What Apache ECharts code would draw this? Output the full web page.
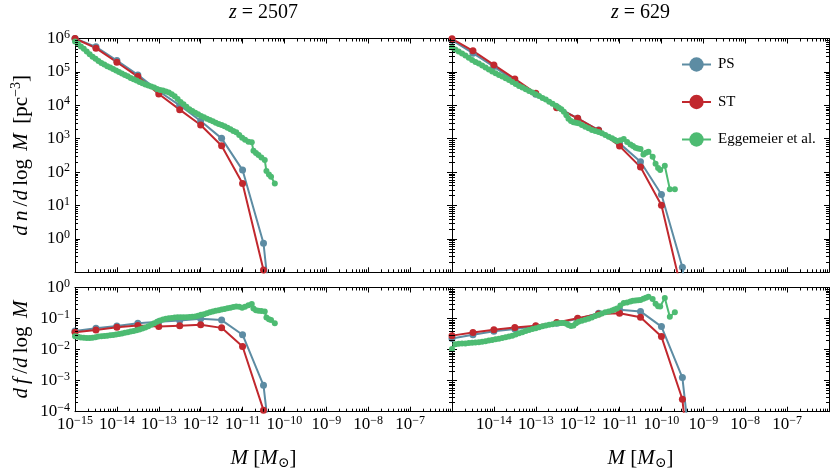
<!DOCTYPE html>
<html><head><meta charset="utf-8">
<script src="https://cdn.jsdelivr.net/npm/echarts@6/dist/echarts.min.js"></script>
<style>html,body{margin:0;padding:0;background:#fff}#c{width:833px;height:472px}</style>
</head><body><div id="c"></div>
<script>
// ================= DATA (all values are log10 of the plotted quantity) =================
// x: log10(M / Msun) ; top panels: log10(dn/dlogM [pc^-3]) ; bottom panels: log10(df/dlogM)
const panelTitles = ['2507', '629'];
const legendNames = ['PS', 'ST', 'Eggemeier et al.'];
const xTickExps = [-15, -14, -13, -12, -11, -10, -9, -8, -7, -6];
const yTopTickExps = [-1, 0, 1, 2, 3, 4, 5, 6];
const yBottomTickExps = [-4, -3, -2, -1, 0];

// Press-Schechter / Sheth-Tormen mass grid
const massExpTheory = [-15, -14.5, -14, -13.5, -13, -12.5, -12, -11.5, -11, -10.5, -10, -9.5, -9];

// z = 2507
const psDn_2507 = [6.00, 5.75, 5.34, 4.91, 4.42, 4.00, 3.53, 3.01, 2.06, -0.13, -6.0];
const stDn_2507 = [6.00, 5.71, 5.29, 4.86, 4.34, 3.87, 3.41, 2.79, 1.66, -0.93, -7.0];
const psDf_2507 = [-1.40, -1.31, -1.24, -1.15, -1.10, -1.06, -1.01, -1.05, -1.52, -3.15, -9.0];
const stDf_2507 = [-1.44, -1.37, -1.28, -1.22, -1.26, -1.23, -1.20, -1.30, -1.90, -3.95, -10.0];

const eggMass_2507 = [-15.00,-14.93,-14.86,-14.79,-14.72,-14.65,-14.58,-14.51,-14.44,-14.37,
  -14.30,-14.23,-14.16,-14.09,-14.02,-13.95,-13.88,-13.81,-13.74,-13.67,
  -13.60,-13.53,-13.46,-13.39,-13.32,-13.25,-13.18,-13.11,-13.04,-12.97,
  -12.90,-12.83,-12.76,-12.69,-12.62,-12.55,-12.48,-12.41,-12.34,-12.27,
  -12.20,-12.13,-12.06,-11.99,-11.92,-11.85,-11.78,-11.71,-11.64,-11.57,
  -11.50,-11.43,-11.36,-11.29,-11.22,-11.15,-11.08,-11.01,-10.94,-10.86,
  -10.78,-10.74,-10.68,-10.62,-10.55,-10.47,-10.43,-10.37,-10.32,-10.23];
const eggDn_2507 = [5.91,5.84,5.76,5.69,5.61,5.53,5.45,5.39,5.33,5.27,
  5.22,5.17,5.13,5.09,5.04,5.00,4.95,4.91,4.87,4.82,
  4.78,4.74,4.70,4.66,4.62,4.59,4.56,4.53,4.49,4.46,
  4.44,4.41,4.38,4.33,4.27,4.19,4.10,4.03,3.96,3.88,
  3.83,3.78,3.73,3.68,3.64,3.60,3.56,3.52,3.48,3.44,
  3.41,3.37,3.33,3.28,3.23,3.19,3.11,3.03,2.97,2.91,
  2.89,2.64,2.57,2.51,2.44,2.36,2.03,1.93,1.86,1.66];
const eggDf_2507 = [-1.57,-1.59,-1.61,-1.62,-1.63,-1.63,-1.62,-1.60,-1.58,-1.57,
  -1.56,-1.55,-1.54,-1.53,-1.51,-1.50,-1.48,-1.46,-1.44,-1.42,
  -1.40,-1.38,-1.35,-1.32,-1.29,-1.25,-1.20,-1.15,-1.10,-1.06,
  -1.03,-1.01,-0.99,-0.98,-0.97,-0.96,-0.96,-0.96,-0.96,-0.95,
  -0.94,-0.93,-0.91,-0.88,-0.86,-0.83,-0.80,-0.77,-0.75,-0.73,
  -0.71,-0.69,-0.67,-0.65,-0.63,-0.61,-0.62,-0.65,-0.62,-0.57,
  -0.53,-0.68,-0.73,-0.75,-0.76,-0.77,-0.97,-1.02,-1.05,-1.15];

// z = 629
const psDn_629 = [5.95, 5.56, 5.16, 4.73, 4.33, 3.95, 3.61, 3.26, 2.86, 2.31, 1.33, -0.85, -6.0];
const stDn_629 = [5.99, 5.63, 5.21, 4.79, 4.36, 3.93, 3.61, 3.25, 2.78, 2.15, 1.01, -1.65, -7.0];
const psDf_629 = [-1.64, -1.52, -1.41, -1.34, -1.25, -1.15, -1.01, -0.83, -0.72, -0.77, -1.26, -2.90, -9.0];
const stDf_629 = [-1.55, -1.45, -1.36, -1.29, -1.23, -1.13, -0.99, -0.85, -0.83, -0.96, -1.58, -3.60, -10.0];

const eggMass_629 = [-15.00,-14.92,-14.84,-14.76,-14.68,-14.60,-14.52,-14.44,-14.36,-14.28,
  -14.20,-14.12,-14.04,-13.96,-13.88,-13.80,-13.72,-13.64,-13.56,-13.48,
  -13.40,-13.32,-13.24,-13.16,-13.08,-13.00,-12.92,-12.84,-12.76,-12.68,
  -12.60,-12.52,-12.45,-12.39,-12.33,-12.27,-12.22,-12.16,-12.10,-12.04,
  -11.98,-11.90,-11.82,-11.74,-11.66,-11.58,-11.50,-11.42,-11.34,-11.26,
  -11.18,-11.12,-11.06,-10.98,-10.90,-10.82,-10.74,-10.68,-10.62,-10.56,
  -10.50,-10.43,-10.37,-10.31,-10.21,-10.14,-10.08,-10.03,-9.92,-9.80,
  -9.68];
const eggDn_629 = [5.73,5.67,5.61,5.55,5.49,5.42,5.36,5.30,5.25,5.19,
  5.13,5.07,5.01,4.96,4.91,4.86,4.81,4.76,4.70,4.64,
  4.58,4.53,4.48,4.43,4.38,4.33,4.28,4.22,4.17,4.11,
  4.05,3.99,3.93,3.88,3.81,3.70,3.60,3.53,3.49,3.48,
  3.46,3.41,3.36,3.31,3.26,3.23,3.20,3.16,3.11,3.06,
  3.01,2.97,2.93,2.95,2.99,2.90,2.83,2.78,2.73,2.71,
  2.69,2.53,2.58,2.61,2.46,2.25,2.12,2.06,2.19,1.49,
  1.49];
const eggDf_629 = [-1.98,-1.83,-1.81,-1.80,-1.80,-1.79,-1.78,-1.77,-1.76,-1.75,
  -1.73,-1.71,-1.69,-1.67,-1.65,-1.63,-1.60,-1.58,-1.55,-1.51,
  -1.47,-1.44,-1.40,-1.37,-1.34,-1.31,-1.28,-1.25,-1.22,-1.20,
  -1.18,-1.16,-1.15,-1.14,-1.14,-1.17,-1.21,-1.24,-1.22,-1.15,
  -1.10,-1.07,-1.04,-1.01,-0.97,-0.92,-0.88,-0.84,-0.80,-0.77,
  -0.74,-0.71,-0.68,-0.58,-0.50,-0.48,-0.45,-0.43,-0.42,-0.41,
  -0.40,-0.36,-0.33,-0.30,-0.37,-0.52,-0.60,-0.61,-0.34,-0.94,
  -0.80];

// ================= STYLE / LAYOUT =================
const FONT = '"Liberation Serif","DejaVu Serif",serif';
const COLORS = ['#5d8ca3', '#c1282e', '#4dbb72'];
const X_MIN = xTickExps[0], X_MAX = xTickExps[xTickExps.length - 1];

// minor (2..9 x 10^n) tick positions in log10 space
function minorVals(lo, hi) {
  const out = [];
  for (let d = lo; d < hi; d++) for (let k = 2; k <= 9; k++) out.push(d + Math.log10(k));
  return out;
}

const majorTick = {show: true, inside: true, length: 5, lineStyle: {color: '#000', width: 1}};
const labelRich = {
  b: {fontFamily: FONT, fontSize: 17, color: '#000', lineHeight: 20},
  s: {fontFamily: FONT, fontSize: 12, color: '#000', lineHeight: 12, verticalAlign: 'top'}
};
const nameRich = {
  i: {fontFamily: FONT, fontSize: 21, fontStyle: 'italic', color: '#000', lineHeight: 24},
  r: {fontFamily: FONT, fontSize: 21, color: '#000', lineHeight: 24},
  s: {fontFamily: FONT, fontSize: 14, color: '#000', lineHeight: 14, verticalAlign: 'top'},
  sub: {fontFamily: FONT, fontSize: 14, color: '#000', lineHeight: 14, verticalAlign: 'bottom'}
};
function supLabel(v, hide) {
  const n = Math.round(v);
  if (hide.indexOf(n) >= 0) return '';
  return '{b|10}{s|' + (n < 0 ? '\u2212' + (-n) : String(n)) + '}';
}

const grids = [
  {left: 75, top: 38.5, width: 377, height: 233.8},
  {left: 452, top: 38.5, width: 377, height: 233.8},
  {left: 75, top: 287.5, width: 377, height: 124.2},
  {left: 452, top: 287.5, width: 377, height: 124.2}
].map(g => Object.assign({outerBoundsMode: 'none', containLabel: false}, g));

function makeXAxes(gi, showLabels, hide, name) {
  const base = {type: 'value', gridIndex: gi, min: X_MIN, max: X_MAX, interval: 1,
    splitLine: {show: false}, axisTick: majorTick,
    axisLine: {show: true, onZero: false, lineStyle: {color: '#000', width: 1}}};
  const bottom = Object.assign({}, base, {position: 'bottom',
    axisLabel: showLabels ? {show: true, margin: 3, formatter: v => supLabel(v, hide), rich: labelRich} : {show: false}});
  if (name) Object.assign(bottom, {name: name, nameLocation: 'middle', nameGap: 35, nameTextStyle: {rich: nameRich}});
  const top = Object.assign({}, base, {position: 'top', axisLabel: {show: false}});
  return [bottom, top];
}
function makeYAxes(gi, ticks, showLabels, hide, name) {
  const base = {type: 'value', gridIndex: gi, min: ticks[0], max: ticks[ticks.length - 1], interval: 1,
    splitLine: {show: false}, axisTick: majorTick,
    axisLine: {show: true, onZero: false, lineStyle: {color: '#000', width: 1}}};
  const left = Object.assign({}, base, {position: 'left',
    axisLabel: showLabels ? {show: true, margin: 5, formatter: v => supLabel(v, hide), rich: labelRich} : {show: false}});
  if (name) Object.assign(left, {name: name, nameLocation: 'middle', nameGap: 42, nameRotate: 90, nameTextStyle: {rich: nameRich}});
  const right = Object.assign({}, base, {position: 'right', axisLabel: {show: false}});
  return [left, right];
}

const TS = '\u2009';
const xName = '{i|M}{r| [}{i|M}{sub|\u2299}{r|]}';
const yNameTop = '{i|d' + TS + 'n}{r|' + TS + '/}{i|d}{r|' + TS + 'log' + TS + TS + '}{i|M}{r|' + TS + ' [pc}{s|\u22123}{r|]}';
const yNameBottom = '{i|d' + TS + 'f}{r|' + TS + '/}{i|d}{r|' + TS + 'log' + TS + TS + '}{i|M}';

const xAxes = [].concat(
  makeXAxes(0, false, [], null),
  makeXAxes(1, false, [], null),
  makeXAxes(2, true, [-6], xName),
  makeXAxes(3, true, [-15, -6], xName)
);
const yAxes = [].concat(
  makeYAxes(0, yTopTickExps, true, [-1], yNameTop),
  makeYAxes(1, yTopTickExps, false, [], null),
  makeYAxes(2, yBottomTickExps, true, [], yNameBottom),
  makeYAxes(3, yBottomTickExps, false, [], null)
);

function line(nameIdx, gi, xs, ys, size) {
  const color = COLORS[nameIdx];
  return {
    type: 'line', name: legendNames[nameIdx], xAxisIndex: gi * 2, yAxisIndex: gi * 2,
    data: ys.map((y, i) => [xs[i], y]),
    symbol: 'circle', symbolSize: size, showSymbol: true, showAllSymbol: true,
    lineStyle: {color: color, width: 2}, itemStyle: {color: color},
    clip: true, animation: false, silent: true, emphasis: {disabled: true}, z: 3
  };
}

// minor ticks (log-spaced), placed through the axes' own coordinate mapping
function minorTickSeries(gi, yTicks) {
  const yLo = yTicks[0], yHi = yTicks[yTicks.length - 1];
  const data = minorVals(X_MIN, X_MAX).map(v => [v, yLo, 0])
    .concat(minorVals(yLo, yHi).map(w => [X_MIN, w, 1]));
  return {
    type: 'custom', name: 'minorTicks', xAxisIndex: gi * 2, yAxisIndex: gi * 2, data: data,
    dimensions: ['x', 'y', 'kind'], encode: {x: 0, y: 1},
    silent: true, animation: false, clip: false, z: 4,
    renderItem: function (params, api) {
      const cs = params.coordSys;
      const p = api.coord([api.value(0), api.value(1)]);
      const L = 3, st = {stroke: '#000', lineWidth: 1};
      if (api.value(2) === 0) {
        const x = Math.round(p[0]) + 0.5;
        const yb = cs.y + cs.height, yt = cs.y;
        return {type: 'group', children: [
          {type: 'line', shape: {x1: x, y1: yb, x2: x, y2: yb - L}, style: st},
          {type: 'line', shape: {x1: x, y1: yt, x2: x, y2: yt + L}, style: st}
        ]};
      }
      const y = Math.round(p[1]) + 0.5;
      const xl = cs.x, xr = cs.x + cs.width;
      return {type: 'group', children: [
        {type: 'line', shape: {x1: xl, y1: y, x2: xl + L, y2: y}, style: st},
        {type: 'line', shape: {x1: xr, y1: y, x2: xr - L, y2: y}, style: st}
      ]};
    }
  };
}

const series = [
  line(0, 0, massExpTheory, psDn_2507, 7), line(1, 0, massExpTheory, stDn_2507, 7), line(2, 0, eggMass_2507, eggDn_2507, 6),
  line(0, 1, massExpTheory, psDn_629, 7), line(1, 1, massExpTheory, stDn_629, 7), line(2, 1, eggMass_629, eggDn_629, 6),
  line(0, 2, massExpTheory, psDf_2507, 7), line(1, 2, massExpTheory, stDf_2507, 7), line(2, 2, eggMass_2507, eggDf_2507, 6),
  line(0, 3, massExpTheory, psDf_629, 7), line(1, 3, massExpTheory, stDf_629, 7), line(2, 3, eggMass_629, eggDf_629, 6),
  minorTickSeries(0, yTopTickExps), minorTickSeries(1, yTopTickExps),
  minorTickSeries(2, yBottomTickExps), minorTickSeries(3, yBottomTickExps)
];

const titleRich = {
  i: {fontFamily: FONT, fontSize: 20, fontStyle: 'italic', fill: '#000'},
  r: {fontFamily: FONT, fontSize: 20, fill: '#000'}
};
const titleCenters = [263.5, 640.5];

const chart = echarts.init(document.getElementById('c'), null, {renderer: 'canvas'});
chart.setOption({
  animation: false,
  backgroundColor: '#fff',
  textStyle: {fontFamily: FONT},
  grid: grids,
  xAxis: xAxes,
  yAxis: yAxes,
  legend: {
    data: legendNames, orient: 'vertical', left: 676, top: 52,
    itemWidth: 29, itemHeight: 18, itemGap: 22.5, selectedMode: false,
    textStyle: {fontFamily: FONT, fontSize: 15, color: '#000', padding: [0, 0, 0, 2]}
  },
  graphic: panelTitles.map((z, k) => ({
    type: 'text', x: titleCenters[k], y: 13,
    style: {text: '{i|z}{r| = ' + z + '}', rich: titleRich, font: '20px ' + FONT,
      align: 'center', verticalAlign: 'middle', textAlign: 'center', textVerticalAlign: 'middle'}
  })),
  series: series
});
</script></body></html>
